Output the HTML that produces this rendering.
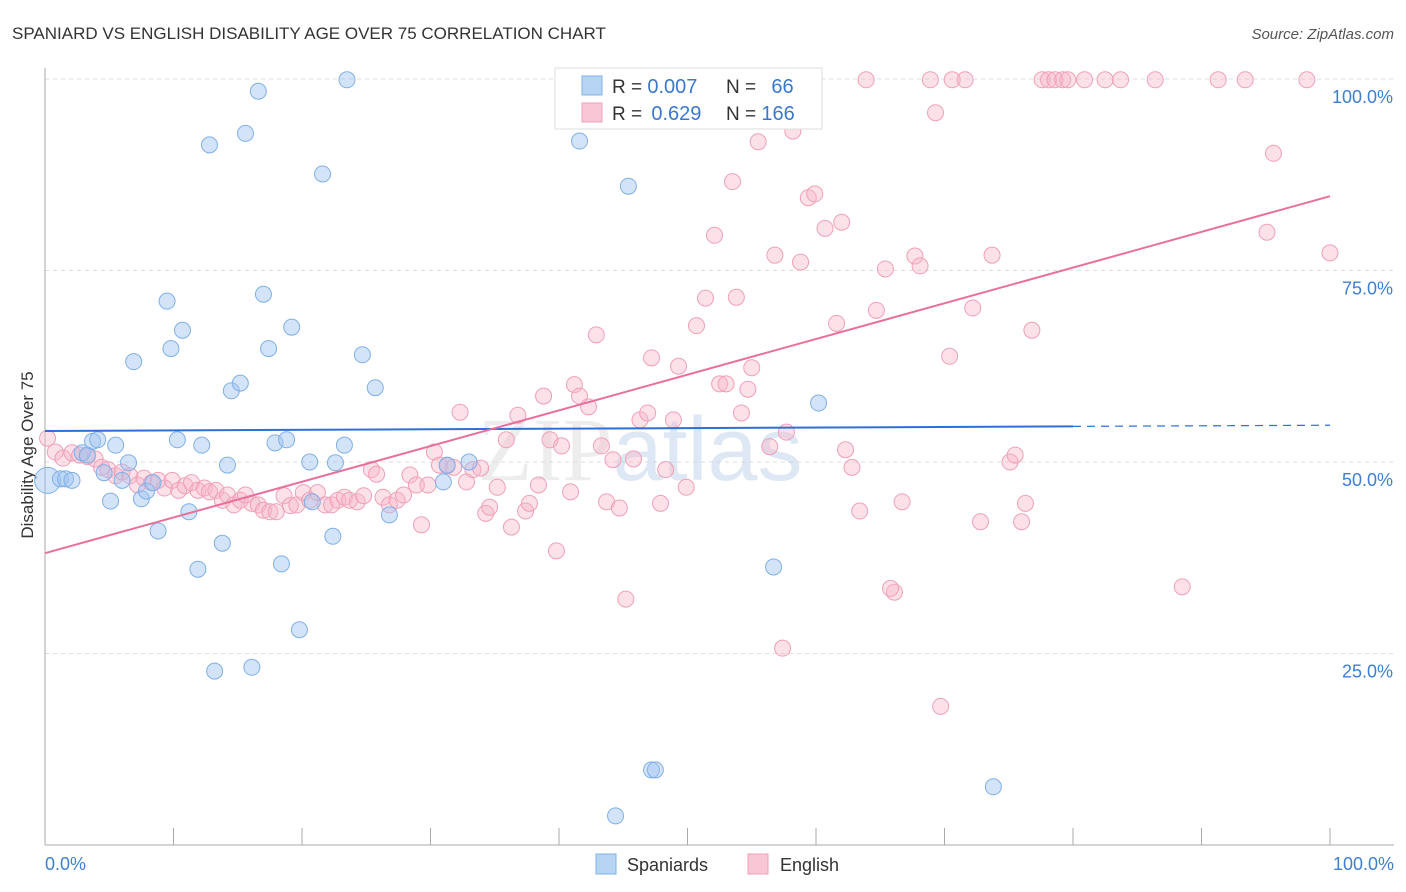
<!DOCTYPE html>
<html><head><meta charset="utf-8"><style>
body{margin:0;background:#fff;font-family:"Liberation Sans",sans-serif;}
svg{display:block}
</style></head><body>
<svg id="chart" width="1406" height="892" xmlns="http://www.w3.org/2000/svg">
<text x="12" y="39" font-size="17" fill="#333">SPANIARD VS ENGLISH DISABILITY AGE OVER 75 CORRELATION CHART</text>
<text x="1394" y="39" font-size="15" fill="#555" font-style="italic" text-anchor="end">Source: ZipAtlas.com</text>
<text transform="translate(33,455) rotate(-90)" font-size="17" fill="#333" text-anchor="middle">Disability Age Over 75</text>
<g id="grid"></g>
<g id="axes"></g>
<text x="640" y="480" font-size="90" fill="#d8d8d8" opacity="0.45" text-anchor="middle" font-family="Liberation Serif">ZIP<tspan fill="#b8cde8" font-family="Liberation Sans">atlas</tspan></text>
<g id="points"></g>
<g id="lines"></g>
<g>
<rect x="555" y="68" width="267" height="61" fill="#fff" stroke="#ddd"/>
<rect x="582" y="76" width="20" height="19" fill="#b8d4f4" stroke="#7fb0e8"/>
<rect x="582" y="103" width="20" height="19" fill="#f8c6d4" stroke="#f0a0b8"/>
<text x="612" y="93" font-size="19" fill="#333">R = <tspan fill="#3a78d0" font-size="20">0.007</tspan></text>
<text x="726" y="93" font-size="19" fill="#333">N = <tspan fill="#3a78d0" dx="10" font-size="20">66</tspan></text>
<text x="612" y="120" font-size="19" fill="#333">R = <tspan fill="#3a78d0" dx="4" font-size="20">0.629</tspan></text>
<text x="726" y="120" font-size="19" fill="#333">N = <tspan fill="#3a78d0" font-size="20">166</tspan></text>
</g>
<g>
<rect x="596" y="854" width="20" height="20" fill="#b8d4f4" stroke="#7fb0e8"/>
<text x="627" y="871" font-size="18" fill="#333">Spaniards</text>
<rect x="748" y="854" width="20" height="20" fill="#f8c6d4" stroke="#f0a0b8"/>
<text x="780" y="871" font-size="18" fill="#333">English</text>
</g>
</svg>
<script>
const yTicks=[25,50,75,100];
const yTickLabels=["25.0%","50.0%","75.0%","100.0%"];
const xLabels=["0.0%","100.0%"];
const blueX=[0.2,1.2,1.6,2.1,2.9,3.3,3.7,4.1,4.6,5.1,5.5,6.0,6.5,6.9,7.5,7.9,8.4,8.8,9.5,9.8,10.3,10.7,11.2,11.9,12.2,12.8,13.2,13.8,14.2,14.5,15.2,15.6,16.1,16.6,17.0,17.4,17.9,18.4,18.8,19.2,19.8,20.6,20.8,21.6,22.4,22.6,23.3,23.5,24.7,25.7,26.8,31.0,33.0,41.6,44.4,45.4,47.2,47.5,49.8,51.9,56.7,60.2,73.8,31.3];
const blueY=[47.6,47.8,47.8,47.6,51.2,50.9,52.7,52.9,48.6,44.9,52.2,47.6,49.9,63.1,45.2,46.2,47.3,41.0,71.0,64.8,52.9,67.2,43.5,36.0,52.2,91.4,22.7,39.4,49.6,59.3,60.3,92.9,23.2,98.4,71.9,64.8,52.5,36.7,52.9,67.6,28.1,50.0,44.8,87.6,40.3,49.9,52.2,99.9,64.0,59.7,43.1,47.4,50.0,91.9,3.8,86.0,9.8,9.8,99.9,99.9,36.3,57.7,7.6,49.6];
const pinkX=[0.2,0.8,1.4,2.1,2.7,3.3,3.9,4.4,4.9,5.5,6.0,6.6,7.2,7.7,8.3,8.8,9.3,9.9,10.4,10.9,11.4,11.9,12.4,12.8,13.3,13.8,14.2,14.7,15.2,15.6,16.1,16.6,17.0,17.5,18.0,18.6,19.1,19.6,20.1,20.6,21.2,21.8,22.3,22.8,23.3,23.7,24.3,24.8,25.4,25.8,26.3,26.8,27.4,27.9,28.4,28.9,29.3,29.8,30.3,30.7,31.3,31.8,32.3,32.8,33.3,33.9,34.3,34.6,35.2,35.9,36.3,36.8,37.4,37.7,38.4,38.8,39.3,39.8,40.2,40.9,41.2,41.6,42.3,42.9,43.3,43.7,44.2,44.7,45.2,45.8,46.3,46.9,47.2,47.9,48.3,48.9,49.3,49.9,50.7,51.4,52.1,52.5,53.0,53.5,53.8,54.2,54.7,55.0,55.5,56.0,56.4,56.8,57.4,57.7,58.2,58.8,59.4,59.9,60.7,61.6,62.0,62.3,62.8,63.4,63.9,64.7,65.4,66.1,65.8,66.7,67.7,68.1,68.9,69.3,69.7,70.4,70.6,71.6,72.2,72.8,73.7,75.1,75.5,76.0,76.3,76.8,77.6,78.1,78.6,79.2,79.6,80.9,82.5,83.7,86.4,88.5,91.3,93.4,95.1,95.6,98.2,100.0];
const pinkY=[53.1,51.3,50.5,51.2,50.9,50.7,50.4,49.3,49.0,48.2,48.7,48.2,47.0,47.9,47.3,47.6,46.6,47.6,46.3,46.9,47.3,46.3,46.6,46.1,46.3,45.0,45.7,44.4,45.0,45.7,44.6,44.4,43.7,43.5,43.5,45.6,44.3,44.4,46.0,45.0,46.0,44.4,44.4,45.0,45.4,45.0,44.8,45.6,49.0,48.4,45.4,44.4,45.0,45.7,48.3,47.0,41.8,47.0,51.3,49.6,49.5,49.3,56.5,47.4,49.0,49.2,43.3,44.1,46.7,52.9,41.5,56.1,43.6,44.6,47.0,58.6,52.9,38.4,52.1,46.1,60.1,58.6,57.2,66.6,52.1,44.8,50.3,44.0,32.1,50.4,55.5,56.4,63.6,44.6,49.0,55.5,62.5,46.7,67.8,71.4,79.6,60.2,60.2,86.6,71.5,56.4,59.5,62.3,91.8,95.8,52.0,77.0,25.7,53.9,93.2,76.1,84.5,85.0,80.5,68.1,81.3,51.6,49.3,43.6,99.9,69.8,75.2,33.0,33.5,44.8,76.9,75.6,99.9,95.6,18.1,63.8,99.9,99.9,70.1,42.2,77.0,50.0,50.9,42.2,44.6,67.2,99.9,99.9,99.9,99.9,99.9,99.9,99.9,99.9,99.9,33.7,99.9,99.9,80.0,90.3,99.9,77.3];
const blueTrend=[54.05,54.8];
const pinkTrend=[38.1,84.7];
const NS="http://www.w3.org/2000/svg";
const X=v=>45+v*12.85, Y=v=>845-v*7.66;
function mk(tag,attrs,parent){const e=document.createElementNS(NS,tag);for(const k in attrs)e.setAttribute(k,attrs[k]);parent.appendChild(e);return e;}
const grid=document.getElementById('grid'),axes=document.getElementById('axes'),pts=document.getElementById('points'),lines=document.getElementById('lines');
yTicks.forEach((t,i)=>{
 const l=mk('line',{x1:45,x2:1394,y1:Y(t),y2:Y(t),stroke:'#ddd','stroke-dasharray':'4,4'},grid);
 
 
 const tx=mk('text',{x:1393,y:Y(t)+24,'font-size':18,fill:'#3f7fd0','text-anchor':'end'},axes);
 tx.textContent=yTickLabels[i];
 
 
});
const ax=mk('line',{x1:45,x2:1394,y1:845,y2:845,stroke:'#aaa'},axes);


const ay=mk('line',{x1:45,x2:45,y1:68,y2:845,stroke:'#aaa'},axes);


for(let i=0;i<=10;i++){
 const tk=mk('line',{x1:X(i*10),x2:X(i*10),y1:828,y2:845,stroke:'#aaa'},axes);
 
 
}
[[0,'start',45],[1,'end',1394]].forEach(([i,a,x])=>{
 const t=mk('text',{x:x,y:870,'font-size':18,fill:'#3f7fd0','text-anchor':a},axes);
 t.textContent=xLabels[i];
 
 
});
pinkX.forEach((x,i)=>{
 const c=mk('circle',{cx:X(x),cy:Y(pinkY[i]),r:8,fill:'rgba(248,180,200,0.4)',stroke:'#f0a0b8','stroke-width':1},pts);
 
 
});
blueX.forEach((x,i)=>{
 const c=mk('circle',{cx:X(x),cy:Y(blueY[i]),r:i===0?13:8,fill:'rgba(160,196,240,0.45)',stroke:'#7fb0e8','stroke-width':1},pts);
 
 
});
const bMid=blueTrend[0]+(blueTrend[1]-blueTrend[0])*0.8;
const b1=mk('line',{x1:X(0),y1:Y(blueTrend[0]),x2:X(80),y2:Y(bMid),stroke:'#2f6fd6','stroke-width':2},lines);


const b2=mk('line',{x1:X(80),y1:Y(bMid),x2:X(100),y2:Y(blueTrend[1]),stroke:'#2f6fd6','stroke-width':1.2,'stroke-dasharray':'8,6'},lines);


const p1=mk('line',{x1:X(0),y1:Y(pinkTrend[0]),x2:X(100),y2:Y(pinkTrend[1]),stroke:'#e8709a','stroke-width':2},lines);


</script>
</body></html>
